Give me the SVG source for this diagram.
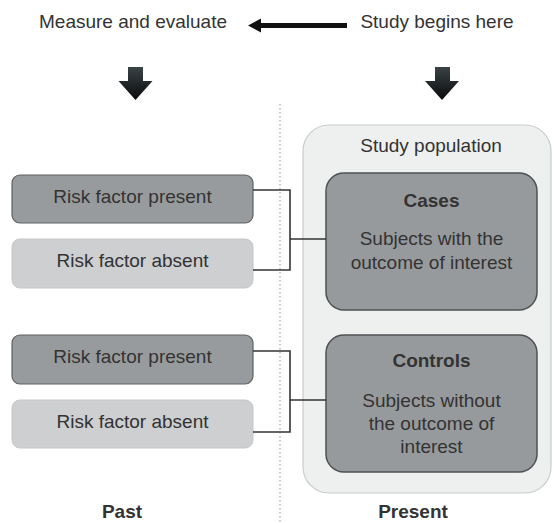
<svg xmlns="http://www.w3.org/2000/svg" width="554" height="523" viewBox="0 0 554 523">
<style>
text{font-family:"Liberation Sans",Arial,Helvetica,sans-serif;fill:#333;font-size:19px;text-anchor:middle}
.b{font-weight:bold}
.dark{fill:#989b9d;stroke:#5e6163;stroke-width:1.2}
.light{fill:#cdcfd0;stroke:#c4c6c7;stroke-width:1}
.pop{fill:#eef0f0;stroke:#c9cccc;stroke-width:1.2}
.big{fill:#979a9c;stroke:#4e5153;stroke-width:1.5}
.conn{fill:none;stroke:#333;stroke-width:1.6}
.arr{fill:#111}
</style>
<defs>
<linearGradient id="sh" x1="0" y1="0" x2="0" y2="1">
<stop offset="0" stop-color="#3a4346"/>
<stop offset="1" stop-color="#0a0a0a"/>
</linearGradient>
</defs>
<rect width="554" height="523" fill="#fff"/>
<g id="header">
<text x="133" y="28">Measure and evaluate</text>
<text x="437" y="28">Study begins here</text>
</g>
<g id="arrows">
<path class="arr" d="M248,25.5 L261,18.5 L261,23 L347,23 L347,28 L261,28 L261,32.5 Z"/>
<path fill="url(#sh)" d="M128,67 H143 V81 H152.5 L135.5,100 L118.5,81 H128 Z"/>
<path fill="url(#sh)" d="M435,67 H450 V81 H459 L442,100 L425,81 H435 Z"/>
</g>
<line x1="280" y1="104" x2="280" y2="523" stroke="#b5b8ba" stroke-width="1.5" stroke-dasharray="1.5 2.5"/>
<g id="study-population">
<rect class="pop" x="303" y="125" width="248" height="368" rx="26"/>
<text x="431" y="152">Study population</text>
</g>
<g id="rf-present-1">
<rect class="dark" x="12" y="175" width="241" height="48" rx="8"/>
<text x="132.5" y="203">Risk factor present</text>
</g>
<g id="rf-absent-1">
<rect class="light" x="12" y="239" width="241" height="49" rx="8"/>
<text x="132.5" y="267">Risk factor absent</text>
</g>
<g id="rf-present-2">
<rect class="dark" x="12" y="335" width="241" height="49" rx="8"/>
<text x="132.5" y="363">Risk factor present</text>
</g>
<g id="rf-absent-2">
<rect class="light" x="12" y="400" width="241" height="48" rx="8"/>
<text x="132.5" y="428">Risk factor absent</text>
</g>
<g id="cases">
<rect class="big" x="326" y="173" width="211" height="137" rx="18"/>
<text class="b" x="431.5" y="207">Cases</text>
<text x="431.5" y="245">Subjects with the</text>
<text x="431.5" y="269">outcome of interest</text>
</g>
<g id="controls">
<rect class="big" x="326" y="335" width="211" height="137" rx="18"/>
<text class="b" x="431.5" y="367">Controls</text>
<text x="431.5" y="407">Subjects without</text>
<text x="431.5" y="430">the outcome of</text>
<text x="431.5" y="453">interest</text>
</g>
<g id="connectors">
<path class="conn" d="M253,190 H290 V270 H253 M290,239 H326"/>
<path class="conn" d="M253,351 H290 V432 H253 M290,400 H326"/>
</g>
<g id="labels">
<text class="b" x="122" y="518">Past</text>
<text class="b" x="413" y="518">Present</text>
</g>
</svg>
